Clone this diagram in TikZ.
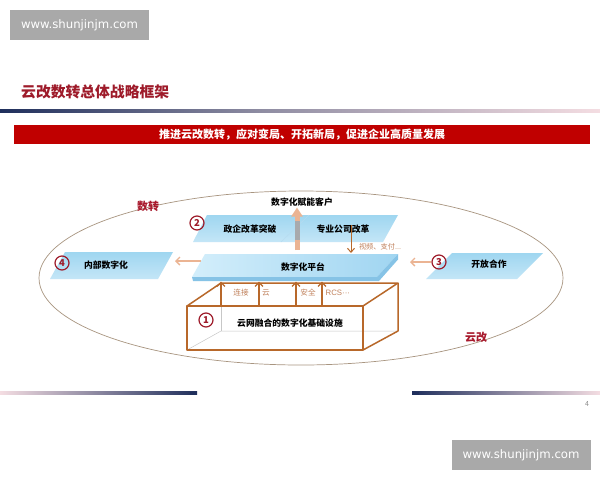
\documentclass[tikz,border=0pt]{standalone}
\usepackage{fontspec}
\newfontfamily\cjk{Noto Sans CJK SC}
\newfontfamily\wmfont{DejaVu Sans}
\newfontfamily\latfont{Liberation Sans}
\usetikzlibrary{arrows.meta,shapes.geometric}
\definecolor{dred}{HTML}{9E1B2A}
\definecolor{lblred}{HTML}{A8192C}
\definecolor{bannerred}{HTML}{C00000}
\definecolor{wmgray}{HTML}{A9A9A9}
\definecolor{navy}{HTML}{1F2F5C}
\definecolor{mauve}{HTML}{8E8CA2}
\definecolor{pinkw}{HTML}{F4DDE2}
\definecolor{ellcol}{HTML}{A89580}
\definecolor{pA}{HTML}{9FD6F0}
\definecolor{pB}{HTML}{C4E6F7}
\definecolor{platA}{HTML}{D3EEFB}
\definecolor{platB}{HTML}{A0D5F1}
\definecolor{platedge}{HTML}{86C3E6}
\definecolor{salmon}{HTML}{EBB493}
\definecolor{boxbrown}{HTML}{B8682A}
\definecolor{lbltan}{HTML}{C0805A}
\definecolor{shaftgray}{HTML}{98A8B4}
\begin{document}
\begin{tikzpicture}[x=1pt,y=-1pt,
  wm/.style={fill=wmgray, minimum width=139pt, minimum height=30pt, inner sep=0pt, text=white, font=\wmfont\fontsize{11.7}{12}\selectfont},
  lbl/.style={font=\cjk\bfseries\fontsize{8.8}{10}\selectfont, text=black, inner sep=0pt},
  small/.style={font=\cjk\fontsize{7.6}{9}\selectfont, text=lbltan, inner sep=0pt},
  numc/.style={circle, draw=dred, line width=1.2pt, minimum size=14pt, inner sep=0pt, text=dred, font=\cjk\bfseries\fontsize{9.5}{10}\selectfont},
  redlbl/.style={font=\cjk\bfseries\fontsize{11}{11}\selectfont, text=lblred, inner sep=0pt},
  salarrow/.style={draw=salmon, line width=1.4pt, -{Straight Barb[length=4pt,width=8pt]}},
  brarrow/.style={draw=boxbrown, line width=1.4pt, -{Straight Barb[length=4pt,width=8pt]}},
  boxline/.style={draw=boxbrown, line width=1.5pt, line join=round},
  hidden/.style={draw=black!22, line width=0.5pt}
]
\useasboundingbox (0,0) rectangle (600,480);
\fill[white] (0,0) rectangle (600,480);

% watermarks
\node[wm] (wm1) at (79.5,25) {www.shunjinjm.com};
\node[wm] (wm2) at (521,455) {www.shunjinjm.com};

% title and rule
\node[anchor=west, inner sep=0pt, font=\cjk\bfseries\fontsize{14.8}{15}\selectfont, text=dred] (title) at (21,92) {云改数转总体战略框架};
\shade[left color=navy, right color=mauve] (0,109.8) rectangle (260,112.6);
\shade[left color=mauve, right color=pinkw] (259.5,109.8) rectangle (600,112.6);

% banner
\node[fill=bannerred, minimum width=576pt, minimum height=19.5pt, inner sep=0pt, text=white, font=\cjk\bfseries\fontsize{11}{11}\selectfont] (banner) at (302,134.5) {推进云改数转，应对变局、开拓新局，促进企业高质量发展};

% big ellipse
\node[ellipse, draw=ellcol, line width=0.7pt, minimum width=524pt, minimum height=174pt, inner sep=0pt] (ring) at (301,278) {};
\node[redlbl] (shuzhuan) at (148,206) {数转};
\node[redlbl] (yungai) at (476,337) {云改};

% panel 2 (top)
\shade[top color=pA, bottom color=pB] (207,215) -- (398,215) -- (383,242) -- (193,242) -- cycle;
\draw[platedge!60, line width=0.4pt] (281,242) -- (309,215);
\node[lbl] (zhengqi) at (250,229) {政企改革突破};
\node[lbl] (zhuanye) at (343,229) {专业公司改革};
\node[numc] (n2) at (197,223) {2};

% platform
\shade[left color=platA, right color=platB] (205,254) -- (398,254) -- (377,277) -- (192,277) -- cycle;
\fill[platedge] (192,277) -- (377,277) -- (398,254) -- (398,259.5) -- (379,281) -- (193,281) -- cycle;
\node[lbl] (plat) at (303,267) {数字化平台};

% customers + up arrow
\node[lbl] (cust) at (302,202) {数字化赋能客户};
\coordinate (upS) at (297,250);
\coordinate (upE) at (297,207.5);
\draw[draw=salmon, line width=5pt, -{Triangle[length=9pt,width=11pt]}] (upS) -- (upE);
\fill[shaftgray, opacity=0.8] (294.5,221) rectangle (299.5,240);

% down arrow from panel to platform
\coordinate (dnS) at (351,225);
\coordinate (dnE) at (351,253);
\draw[draw=boxbrown, line width=1pt, -{Straight Barb[length=4pt,width=7pt]}] (dnS) -- (dnE);
\node[small, font=\cjk\fontsize{7.2}{8}\selectfont] (video) at (380,247) {视频、支付...};

% panel 4 (left)
\shade[top color=pA, bottom color=pB] (65,252) -- (173,252) -- (158,279) -- (50,279) -- cycle;
\node[lbl] (neibu) at (106,265.5) {内部数字化};
\node[numc] (n4) at (62,263) {4};
\coordinate (lS) at (201,261);
\coordinate (lE) at (175,261);
\draw[salarrow] (lS) -- (lE);

% panel 3 (right)
\shade[top color=pA, bottom color=pB] (452,253) -- (543,253) -- (517,279) -- (426,279) -- cycle;
\node[lbl] (kaifang) at (489,264.5) {开放合作};
\node[numc] (n3) at (439,262) {3};
\coordinate (rS) at (431,262);
\coordinate (rE) at (410,262);
\draw[salarrow] (rS) -- (rE);

% box (infrastructure)
\coordinate (fTL) at (187,306);
\coordinate (fTR) at (363,306);
\coordinate (fBR) at (363,350);
\coordinate (fBL) at (187,350);
\coordinate (bTL) at (221,283);
\coordinate (bTR) at (398,283);
\coordinate (bBR) at (398,331);
\coordinate (bBL) at (221,331);
\draw[hidden] (fBL) -- (bBL) -- (bBR);
\draw[hidden] (bTL) -- (bBL);
\draw[boxline] (fTL) rectangle (fBR);
\draw[boxline] (fTL) -- (bTL) -- (bTR) -- (fTR);
\draw[boxline] (bTR) -- (bBR) -- (fBR);

% up arrows from box to platform
\foreach \x/\nm in {221/a1,259/a2,296/a3,322/a4}{
  \coordinate (\nm s) at (\x,306);
  \coordinate (\nm e) at (\x,281.5);
  \draw[brarrow] (\nm s) -- (\nm e);
}
\node[small] (lianjie) at (241,293) {连接};
\node[small] (yun) at (266,293) {云};
\node[small] (anquan) at (308,293) {安全};
\node[small, font=\latfont\fontsize{7.8}{9}\selectfont, anchor=west] (rcs) at (325.5,293) {RCS···};

\node[numc] (n1) at (206,320) {1};
\node[lbl] (infra) at (290,323) {云网融合的数字化基础设施};

% bottom rules and page number
\shade[left color=pinkw, right color=navy] (0,391.8) rectangle (197,394.8);
\fill[navy] (190,391.8) rectangle (197,394.8);
\shade[left color=navy, right color=pinkw] (412,391.8) rectangle (600,394.8);
\fill[navy] (412,391.8) rectangle (419,394.8);
\node[inner sep=0pt, text=black!45, font=\cjk\fontsize{7}{8}\selectfont] (pg) at (587,404) {4};
\end{tikzpicture}
\end{document}
